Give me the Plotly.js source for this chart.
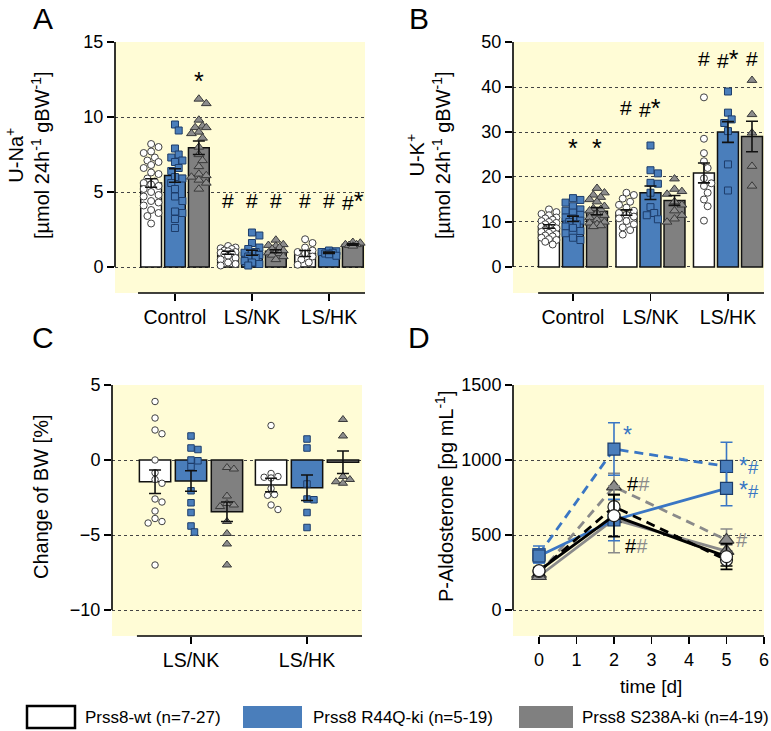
<!DOCTYPE html>
<html><head><meta charset="utf-8">
<script src="https://cdn.plot.ly/plotly-3.0.1.min.js"></script>
<style>html,body{margin:0;padding:0;background:#fff}</style>
</head><body><div id="chart" style="width:771px;height:731px"></div>
<script>
// ---------------- DATA ----------------
const groupsAB = ['Control', 'LS/NK', 'LS/HK'];
const groupsC = ['LS/NK', 'LS/HK'];
const genotypeNames = ['Prss8-wt (n=7-27)', 'Prss8 R44Q-ki (n=5-19)', 'Prss8 S238A-ki (n=4-19)'];

// A: U-Na+ [µmol 24h-1 gBW-1]
const naMeanWT = [5.6, 0.95, 0.9];
const naMeanR44Q = [6.1, 0.95, 0.95];
const naMeanS238A = [7.95, 1.05, 1.5];
const naSemWT = [0.28, 0.1, 0.2];
const naSemR44Q = [0.45, 0.17, 0.05];
const naSemS238A = [0.45, 0.1, 0.05];
const naPtsWT = [
  [8.2, 8.0, 7.7, 7.6, 7.3, 7.1, 7.0, 6.8, 6.6, 6.3, 6.2, 5.9, 5.7, 5.6, 5.5, 5.4, 5.2, 5.0, 4.8, 4.7, 4.4, 4.3, 4.1, 3.8, 3.6, 3.4, 2.9],
  [1.4, 1.3, 1.25, 1.2, 1.1, 1.05, 1.0, 0.95, 0.9, 0.85, 0.75, 0.6, 0.5, 0.3, 0.2, 0.1],
  [1.85, 1.6, 1.3, 1.1, 1.0, 0.9, 0.7, 0.5, 0.3, 0.15]];
const naPtsR44Q = [
  [9.5, 9.1, 7.9, 7.5, 7.3, 7.1, 7.0, 6.6, 6.4, 6.0, 5.9, 5.6, 5.2, 4.7, 4.4, 3.7, 3.6, 3.2, 2.6],
  [2.3, 2.1, 1.6, 1.3, 1.2, 1.0, 0.95, 0.9, 0.8, 0.7, 0.6, 0.4, 0.3, 0.2, 0.1],
  [1.1, 1.05, 1.0, 0.95, 0.9, 0.85, 0.75]];
const naPtsS238A = [
  [11.2, 10.9, 9.8, 9.4, 9.3, 9.3, 9.0, 8.9, 8.6, 8.0, 7.5, 7.1, 6.7, 6.2, 6.1, 6.0, 5.8, 5.6, 5.2],
  [1.8, 1.5, 1.45, 1.4, 1.3, 1.2, 1.1, 1.0, 0.95, 0.9, 0.8, 0.7, 0.5],
  [1.65, 1.6, 1.5, 1.5, 1.45, 1.4]];
const naSigWT = ['', '#', '#'];
const naSigR44Q = ['', '#', '#'];
const naSigS238A = ['*', '#', '#*'];

// B: U-K+ [µmol 24h-1 gBW-1]
const kMeanWT = [9.0, 12.1, 20.9];
const kMeanR44Q = [10.7, 16.5, 30.0];
const kMeanS238A = [12.4, 14.8, 29.0];
const kSemWT = [0.4, 0.6, 2.2];
const kSemR44Q = [0.6, 1.5, 2.3];
const kSemS238A = [0.8, 1.1, 3.4];
const kPtsWT = [
  [12.8, 12.2, 11.8, 11.5, 11.0, 10.8, 10.5, 10.2, 10.0, 9.8, 9.5, 9.2, 9.0, 8.8, 8.6, 8.3, 8.0, 7.8, 7.6, 7.3, 7.0, 6.8, 6.5, 6.2, 6.0, 5.6, 5.0],
  [16.5, 16.0, 15.2, 14.5, 13.8, 13.2, 12.5, 12.0, 11.6, 11.2, 10.8, 10.2, 9.5, 8.8, 8.2, 7.2],
  [37.7, 28.5, 25.3, 23.5, 22.0, 19.7, 18.6, 18.0, 16.5, 15.0, 13.5, 10.3]];
const kPtsR44Q = [
  [15.3, 14.9, 14.3, 13.5, 12.8, 12.5, 12.1, 11.6, 11.0, 10.8, 10.3, 10.0, 9.5, 9.0, 8.7, 8.0, 7.5, 6.5, 6.0],
  [27.0, 21.5, 20.8, 18.7, 18.5, 16.5, 13.3, 12.0, 11.5, 10.6],
  [39.0, 34.3, 32.8, 32.0, 30.2, 22.8, 17.0]];
const kPtsS238A = [
  [17.5, 16.5, 16.0, 15.5, 15.0, 14.5, 13.5, 13.0, 12.8, 12.5, 12.0, 11.5, 11.0, 10.5, 10.0, 9.8, 9.5, 9.2, 9.0],
  [19.6, 17.3, 16.8, 16.2, 14.5, 13.8, 12.5, 11.5, 10.7, 10.0],
  [41.5, 33.9, 29.8, 22.4, 18.0]];
const kSigWT = ['', '#', '#'];
const kSigR44Q = ['*', '#*', '#*'];
const kSigS238A = ['*', '', '#'];

// C: Change of BW [%]
const bwMeanWT = [-1.45, -1.67];
const bwMeanR44Q = [-1.4, -1.85];
const bwMeanS238A = [-3.45, -0.15];
const bwSemWT = [0.78, 0.45];
const bwSemR44Q = [0.68, 0.85];
const bwSemS238A = [0.65, 0.75];
const bwPtsWT = [
  [3.9, 2.8, 2.0, 1.75, 0.0, -0.85, -1.3, -1.55, -2.6, -2.8, -3.4, -3.9, -4.1, -4.2, -7.0],
  [2.3, -0.9, -1.1, -1.15, -1.2, -1.9, -2.3, -2.35, -3.0, -3.3]];
const bwPtsR44Q = [
  [1.6, 0.8, 0.7, 0.0, -0.05, -0.45, -2.05, -2.85, -3.5, -4.4, -4.8],
  [1.4, 0.8, -1.6, -2.6, -2.65, -3.5, -4.5]];
const bwPtsS238A = [
  [-0.5, -0.6, -2.4, -2.9, -3.0, -3.1, -4.1, -4.9, -5.6, -7.0],
  [2.7, 1.6, -1.1, -1.3, -1.45, -1.55]];

// D: P-Aldosterone [pg mL-1] vs time [d]
const timeDays = [0, 2, 5];
const aldoWTdash = [258, 689, 333];      const aldoWTdashSem = [25, 80, 40];
const aldoWTsolid = [262, 629, 356];     const aldoWTsolidSem = [20, 140, 85];
const aldoR44Qdash = [370, 1073, 958];   const aldoR44QdashSem = [57, 175, 160];
const aldoR44Qsolid = [360, 600, 811];   const aldoR44QsolidSem = [45, 138, 116];
const aldoS238Adash = [240, 822, 467];   const aldoS238AdashSem = [20, 89, 73];
const aldoS238Asolid = [225, 604, 393];  const aldoS238AsolidSem = [20, 222, 40];

// ---------------- STYLE / LAYOUT ----------------
const W = 771, H = 731;
const FONT = 'Arial, "Liberation Sans", sans-serif';
const YELLOW = '#fffcd6';
const BLUE = '#4a7ebb', BLUE_LINE = '#3a76c4', GRAY = '#808080', GRAY_LINE = '#8a8a8a';
const px = p => p / W, py = p => 1 - p / H;

const BAR_STEP = 0.31, BAR_W = 0.27;
const genoStyle = [
  {fill: '#ffffff', sym: 'circle', mfill: '#ffffff', mline: '#404040'},
  {fill: BLUE, sym: 'square', mfill: BLUE, mline: '#1d3d6b'},
  {fill: GRAY, sym: 'triangle-up', mfill: '#8c8c8c', mline: '#3a3a3a'}
];

const P = {
  A: {xd: [115, 365], yd: [42, 293], xr: [-0.779, 2.468], yr: [-1.733, 15], ylo: 0, yhi: 15, xlineStart: -0.48, ytick: [0, 5, 10, 15]},
  B: {xd: [513, 764], yd: [42, 293], xr: [-0.774, 2.465], yr: [-5.78, 50], ylo: 0, yhi: 50, xlineStart: -0.45, ytick: [0, 10, 20, 30, 40, 50]},
  C: {xd: [112, 362], yd: [385, 636], xr: [-0.681, 1.474], yr: [-11.733, 5], ylo: -10, yhi: 5, xlineStart: -0.466, ytick: [-10, -5, 0, 5]},
  D: {xd: [513, 764], yd: [385, 636], xr: [-0.693, 6], yr: [-173.3, 1500], ylo: 0, yhi: 1500, xlineStart: 0, ytick: [0, 500, 1000, 1500]}
};
function pxPerX(p) { return (p.xd[1] - p.xd[0]) / (p.xr[1] - p.xr[0]); }
function pxPerY(p) { return (p.yd[1] - p.yd[0]) / (p.yr[1] - p.yr[0]); }

// deterministic beeswarm offsets (x data units), kept within maxPx of the bar centre
function swarm(vals, p, d, maxPx) {
  const kx = pxPerX(p), ky = pxPerY(p);
  const order = vals.map((v, i) => i).sort((a, b) => vals[b] - vals[a]);
  const placed = [], offs = new Array(vals.length).fill(0);
  const step = d * 0.55;
  const cands = [0];
  for (let k = 1; k * step <= maxPx + 0.01; k++) { cands.push(k * step, -k * step); }
  for (const i of order) {
    const y = vals[i] * ky;
    let chosen = 0, bestScore = -1;
    for (const c of cands) {
      let minD = 1e9;
      for (const q of placed) { const dx = c - q[0], dy = y - q[1]; minD = Math.min(minD, Math.sqrt(dx * dx + dy * dy)); }
      if (minD >= d) { chosen = c; bestScore = 1e9; break; }
      if (minD > bestScore) { bestScore = minD; chosen = c; }
    }
    placed.push([chosen, y]);
    offs[i] = chosen / kx;
  }
  return offs;
}

const traces = [];
const annotations = [];
const shapes = [];
const STAR = '<span style="font-size:25px">*</span>';
const fmtSig = t => t.replace(/\*/g, STAR);

function barPanel(p, ax, groups, means, sems, pts, sigs, sigY, msize) {
  const xa = 'x' + (ax === 1 ? '' : ax), ya = 'y' + (ax === 1 ? '' : ax);
  const halfBarPx = BAR_W * pxPerX(p) / 2;
  means.forEach((m, s) => {
    const xs = groups.map((g, gi) => gi + (s - 1) * BAR_STEP);
    traces.push({type: 'bar', x: xs, y: m, width: BAR_W, xaxis: xa, yaxis: ya, name: genotypeNames[s],
      marker: {color: genoStyle[s].fill, line: {color: '#111', width: 1.5}}, hoverinfo: 'skip'});
  });
  pts.forEach((grpPts, s) => {
    const xs = [], ys = [];
    grpPts.forEach((vals, gi) => {
      const offs = swarm(vals, p, msize * 0.9, halfBarPx - 2);
      vals.forEach((v, j) => { xs.push(gi + (s - 1) * BAR_STEP + offs[j]); ys.push(v); });
    });
    traces.push({type: 'scatter', mode: 'markers', x: xs, y: ys, xaxis: xa, yaxis: ya, cliponaxis: false,
      marker: {symbol: genoStyle[s].sym, size: genoStyle[s].sym === 'triangle-up' ? msize + 1 : msize - 0.5,
        color: genoStyle[s].mfill, line: {color: genoStyle[s].mline, width: 1}}, hoverinfo: 'skip'});
  });
  means.forEach((m, s) => {
    const xs = groups.map((g, gi) => gi + (s - 1) * BAR_STEP);
    traces.push({type: 'scatter', mode: 'markers', x: xs, y: m, xaxis: xa, yaxis: ya,
      marker: {size: 1, color: 'rgba(0,0,0,0)'}, hoverinfo: 'skip',
      error_y: {type: 'data', array: sems[s], color: '#111', thickness: 1.6, width: 6}});
  });
  if (sigs) {
    sigs.forEach((arr, s) => arr.forEach((t, gi) => {
      if (!t) return;
      annotations.push({xref: xa, yref: ya, x: gi + (s - 1) * BAR_STEP, y: sigY[gi], text: fmtSig(t), showarrow: false,
        font: {size: 21, color: '#000'}, xanchor: 'center', yanchor: 'middle'});
    }));
  }
}

barPanel(P.A, 1, groupsAB, [naMeanWT, naMeanR44Q, naMeanS238A], [naSemWT, naSemR44Q, naSemS238A],
  [naPtsWT, naPtsR44Q, naPtsS238A], [naSigWT, naSigR44Q, naSigS238A], [12.4, 4.4, 4.4], 7.5);
barPanel(P.B, 2, groupsAB, [kMeanWT, kMeanR44Q, kMeanS238A], [kSemWT, kSemR44Q, kSemS238A],
  [kPtsWT, kPtsR44Q, kPtsS238A], [kSigWT, kSigR44Q, kSigS238A], [26.4, 35.4, 46.3], 7.5);
barPanel(P.C, 3, groupsC, [bwMeanWT, bwMeanR44Q, bwMeanS238A], [bwSemWT, bwSemR44Q, bwSemS238A],
  [bwPtsWT, bwPtsR44Q, bwPtsS238A], null, null, 7);

// D lines
const dSeries = [
  {y: aldoS238Adash, e: aldoS238AdashSem, c: GRAY_LINE, dash: '9px,6px', s: 2},
  {y: aldoS238Asolid, e: aldoS238AsolidSem, c: GRAY_LINE, dash: 'solid', s: 2},
  {y: aldoR44Qdash, e: aldoR44QdashSem, c: BLUE_LINE, dash: '9px,6px', s: 1},
  {y: aldoR44Qsolid, e: aldoR44QsolidSem, c: BLUE_LINE, dash: 'solid', s: 1},
  {y: aldoWTdash, e: aldoWTdashSem, c: '#000000', dash: '9px,6px', s: 0},
  {y: aldoWTsolid, e: aldoWTsolidSem, c: '#000000', dash: 'solid', s: 0}
];
dSeries.forEach(d => {
  const st = genoStyle[d.s];
  traces.push({type: 'scatter', mode: 'lines+markers', x: timeDays, y: d.y, xaxis: 'x4', yaxis: 'y4', cliponaxis: false,
    line: {color: d.c, width: 2.8, dash: d.dash},
    marker: {symbol: st.sym, size: st.sym === 'triangle-up' ? 13 : 12, color: st.mfill, line: {color: d.s === 0 ? '#222' : st.mline, width: 1.2}},
    error_y: {type: 'data', array: d.e, color: d.c, thickness: 1.6, width: 6}, hoverinfo: 'skip'});
});
const hB = c => '<span style="color:' + c + '">';
const STAR_D = '<span style="font-size:23px">*</span>';
const dAnn = [
  {x: 2.36, y: 1170, t: hB(BLUE_LINE) + STAR_D + '</span>', f: 20},
  {x: 5.6, y: 880, t: hB(BLUE_LINE) + STAR_D + '#<br>' + STAR_D + '#</span>', f: 18.5},
  {x: 2.65, y: 843, t: hB('#000') + '#</span>' + hB(GRAY_LINE) + '#</span>', f: 20},
  {x: 2.6, y: 427, t: hB('#000') + '#</span>' + hB(GRAY_LINE) + '#</span>', f: 20},
  {x: 5.4, y: 467, t: hB(GRAY_LINE) + '#</span>', f: 20}
];
dAnn.forEach(a => annotations.push({xref: 'x4', yref: 'y4', x: a.x, y: a.y, text: a.t, showarrow: false,
  font: {size: a.f}, xanchor: 'center', yanchor: 'middle'}));

// axes
function xAx(p, tickvals, ticktext, anchor) {
  return {domain: [px(p.xd[0]), px(p.xd[1])], range: p.xr, anchor: anchor, showline: false, showgrid: false, zeroline: false,
    ticks: 'outside', ticklen: 7, tickwidth: 1.5, tickcolor: '#000', tickvals: tickvals, ticktext: ticktext,
    tickfont: {size: ticktext ? 19.5 : 18, color: '#000'}, fixedrange: true};
}
function yAx(p, anchor) {
  return {domain: [py(p.yd[1]), py(p.yd[0])], range: p.yr, anchor: anchor, showline: false, showgrid: true,
    gridcolor: '#444', griddash: 'dot', gridwidth: 1, zeroline: false,
    ticks: 'outside', ticklen: 7, tickwidth: 1.5, tickcolor: '#000', tickvals: p.ytick,
    tickfont: {size: 18, color: '#000'}, fixedrange: true};
}
[['A', 'x', 'y'], ['B', 'x2', 'y2'], ['C', 'x3', 'y3'], ['D', 'x4', 'y4']].forEach(([k, xa, ya]) => {
  const p = P[k];
  shapes.push({type: 'line', xref: xa + ' domain', yref: ya, x0: 0, x1: 0, y0: p.ylo, y1: p.yhi, line: {color: '#000', width: 1.6}});
  shapes.push({type: 'line', xref: xa, yref: ya + ' domain', x0: p.xlineStart, x1: p.xr[1], y0: 0, y1: 0, line: {color: '#000', width: 1.6}});
});

// legend
const legendItems = [
  {x0: 27, x1: 75, fill: '#ffffff', lw: 2.5, tx: 83},
  {x0: 243, x1: 302, fill: BLUE, lw: 0, tx: 311},
  {x0: 519, x1: 573, fill: GRAY, lw: 0, tx: 580}
];
legendItems.forEach((l, i) => {
  shapes.push({type: 'rect', xref: 'paper', yref: 'paper', x0: px(l.x0), x1: px(l.x1), y0: py(728), y1: py(706),
    fillcolor: l.fill, line: {color: '#000', width: l.lw}});
  annotations.push({xref: 'paper', yref: 'paper', x: px(l.tx), y: py(717), text: genotypeNames[i], showarrow: false,
    xanchor: 'left', yanchor: 'middle', font: {size: 17}});
});

// panel letters & axis titles
[['A', 43], ['B', 419]].forEach(([t, x]) =>
  annotations.push({xref: 'paper', yref: 'paper', x: px(x), y: 1, text: t, showarrow: false, xanchor: 'center', yanchor: 'top', font: {size: 30}}));
[['C', 43, 337], ['D', 419, 337]].forEach(([t, x, y]) =>
  annotations.push({xref: 'paper', yref: 'paper', x: px(x), y: py(y), text: t, showarrow: false, xanchor: 'center', yanchor: 'middle', font: {size: 30}}));
const titles = [
  {x: 27, y: 155, t: 'U-Na<sup>+</sup><br>[µmol 24h<sup>-1</sup> gBW<sup>-1</sup>]'},
  {x: 428, y: 155, t: 'U-K<sup>+</sup><br>[µmol 24h<sup>-1</sup> gBW<sup>-1</sup>]'},
  {x: 41, y: 497, t: 'Change of BW [%]'},
  {x: 444, y: 496, t: 'P-Aldosterone [pg mL<sup>-1</sup>]'}
];
titles.forEach(a => annotations.push({xref: 'paper', yref: 'paper', x: px(a.x), y: py(a.y), text: a.t, textangle: -90,
  showarrow: false, xanchor: 'center', yanchor: 'middle', font: {size: 20}}));
annotations.push({xref: 'paper', yref: 'paper', x: px(651), y: py(686), text: 'time [d]', showarrow: false,
  xanchor: 'center', yanchor: 'middle', font: {size: 19}});

const layout = {
  width: W, height: H, margin: {l: 0, r: 0, t: 0, b: 0},
  paper_bgcolor: '#ffffff', plot_bgcolor: YELLOW, showlegend: false,
  font: {family: FONT, size: 18, color: '#000'},
  barmode: 'overlay',
  xaxis: xAx(P.A, [0, 1, 2], groupsAB, 'y'), yaxis: yAx(P.A, 'x'),
  xaxis2: xAx(P.B, [0, 1, 2], groupsAB, 'y2'), yaxis2: yAx(P.B, 'x2'),
  xaxis3: xAx(P.C, [0, 1], groupsC, 'y3'), yaxis3: yAx(P.C, 'x3'),
  xaxis4: xAx(P.D, [0, 1, 2, 3, 4, 5, 6], null, 'y4'), yaxis4: yAx(P.D, 'x4'),
  shapes: shapes, annotations: annotations
};
Plotly.newPlot('chart', traces, layout, {displayModeBar: false, staticPlot: true});
</script></body></html>
